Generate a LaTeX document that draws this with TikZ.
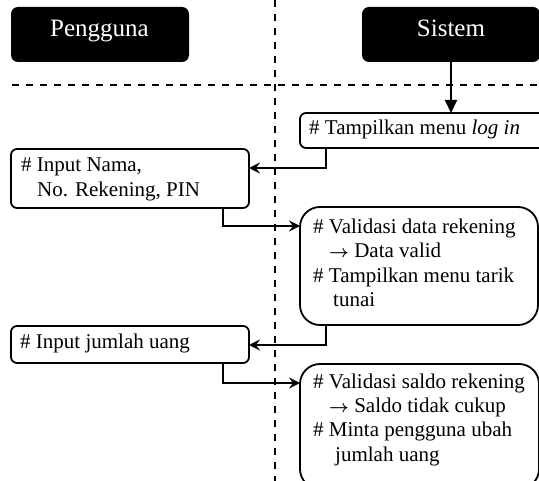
\documentclass[tikz,border=0pt]{standalone}
\usepackage{amsmath}
\usepackage{fontspec}
\setmainfont{Liberation Serif}
\usetikzlibrary{arrows.meta,calc}
\newcommand{\rarr}{{\fontsize{18}{20}\selectfont$\boldsymbol{\rightarrow}$}}
\begin{document}
\begin{tikzpicture}[x=1pt,y=-1pt,
  hdr/.style={fill=black, rounded corners=7pt, minimum width=178pt, minimum height=55pt, anchor=north west, inner sep=0pt, outer sep=0pt},
  hdrtxt/.style={text=white, font=\fontsize{25}{28}\selectfont, anchor=base, inner sep=0pt},
  box/.style={draw, line width=1.8pt, anchor=north west, inner sep=0pt, outer sep=0pt},
  txt/.style={anchor=base west, inner sep=0pt, font=\fontsize{21}{24}\selectfont},
  conn/.style={line width=2pt, -{Stealth[length=11pt,width=11pt,inset=4pt]}},
  lane/.style={line width=1.8pt, dash pattern=on 7pt off 7pt}]
\useasboundingbox (0,0) rectangle (539,481);
\clip (0,0) rectangle (539,481);
% lanes
\draw[lane] (275,0) -- (275,481);
\draw[lane] (12,85) -- (539,85);
% headers
\node[hdr] (peng) at (11,7) {};
\node[hdrtxt] (pengt) at (99.5,37) {Pengguna};
\node[hdr] (sis) at (362,7) {};
\node[hdrtxt] (sist) at (451,37) {Sistem};
% boxes
\node[box, rounded corners=6pt, minimum width=260pt, minimum height=35pt] (b1) at (300,113) {};
\node[box, rounded corners=6pt, minimum width=238pt, minimum height=59pt] (b2) at (11,149) {};
\node[box, rounded corners=20pt, minimum width=238pt, minimum height=118pt] (b3) at (300,207) {};
\node[box, rounded corners=6pt, minimum width=238pt, minimum height=37pt] (b4) at (11,326) {};
\node[box, rounded corners=20pt, minimum width=239pt, minimum height=125pt] (b5) at (300,364) {};
% texts
\node[txt] (t1) at (309,135) {\# Tampilkan menu \textit{log in}};
\node[txt] (t2a) at (21,172) {\# Input Nama,};
\node[txt] (t2b) at (37,197) {No. Rekening, PIN};
\node[txt] (t3a) at (313,234) {\# Validasi data rekening};
\node[txt] (t3b) at (329,258) {\rarr\ Data valid};
\node[txt] (t3c) at (313,283) {\# Tampilkan menu tarik};
\node[txt] (t3d) at (333,307) {tunai};
\node[txt] (t4) at (20,349) {\# Input jumlah uang};
\node[txt] (t5a) at (313,389) {\# Validasi saldo rekening};
\node[txt] (t5b) at (329,413) {\rarr\ Saldo tidak cukup};
\node[txt] (t5c) at (313,437) {\# Minta pengguna ubah};
\node[txt] (t5d) at (335,461) {jumlah uang};
% connectors
\draw[line width=2pt, -{Triangle[length=13pt,width=12pt]}] (sis.south) -- (sis.south |- b1.north);
\draw[conn] ($(b1.south west)+(26,0)$) |- ($(b2.north east)+(0,19)$);
\draw[conn] ($(b2.south west)+(212,0)$) |- ($(b3.north west)+(0,19)$);
\draw[conn] ($(b3.south west)+(26,0)$) |- ($(b4.north east)+(0,19)$);
\draw[conn] ($(b4.south west)+(212,0)$) |- ($(b5.north west)+(0,19)$);
\end{tikzpicture}
\end{document}
